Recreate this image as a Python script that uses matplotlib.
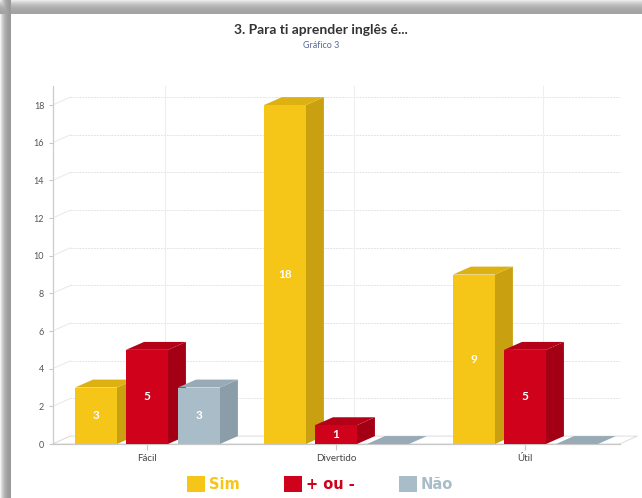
import numpy as np
import matplotlib.pyplot as plt
from matplotlib.patches import Polygon, Patch

plt.rcParams['font.family'] = ['Lato', 'DejaVu Sans']

categories = ["Fácil", "Divertido", "Útil"]
series_names = ["Sim", "+ ou -", "Não"]
sim = [3, 18, 9]
mais_ou_menos = [5, 1, 5]
nao = [3, 0, 0]
values = [sim, mais_ou_menos, nao]

front = ["#F5C518", "#D0021B", "#A9BDC8"]
top = ["#DDB112", "#B50118", "#97AAB5"]
side = ["#C8A010", "#A30016", "#8A9DA8"]

W, H = 642, 498
fig = plt.figure(figsize=(W / 100, H / 100), dpi=100)

# picture frame shadow (left and top)
bg = fig.add_axes([0, 0, 1, 1], zorder=-10)
xx = np.arange(W)
yy = np.arange(H)
lx = np.clip((11 - xx) / 11.0, 0, 1)
ty = np.clip((15 - yy) / 15.0, 0, 1)
left_band = np.where(xx < 11, 0.6 + 0.35 * lx ** 2.5, 1.0)
top_band = np.where(yy < 15, 0.64 + 0.33 * ty ** 2.5, 1.0)
shade = np.minimum(left_band[None, :], top_band[:, None])
img = np.dstack([shade, shade, shade])
bg.imshow(img, extent=[0, 1, 0, 1], aspect='auto')
bg.axis('off')

ax = fig.add_axes([52.5 / W, (H - 444) / H, 567 / W, 357.8 / H])
ax.set_xlim(-0.5, 2.5)
ax.set_ylim(0, 19)

w = 0.222
offs = [-0.27, 0.0, 0.275]
dx = 0.095
dy = 0.42

# back grid
x0 = -0.5
for yv in range(0, 19, 2):
    ax.plot([x0, x0 + dx], [yv, yv + dy], color="#e8e8e8", lw=0.7, zorder=0)
    ax.plot([x0 + dx, 2.5 + dx], [yv + dy, yv + dy], color="#e4e4e4", lw=0.7,
            ls=(0, (2, 1)), zorder=0)
for i in range(len(categories)):
    ax.plot([i + dx, i + dx], [dy, 19], color="#eeeeee", lw=0.8, zorder=0)

# floor
ax.add_patch(Polygon([[x0, 0], [2.5, 0], [2.5 + dx, dy], [x0 + dx, dy]],
                     closed=True, facecolor="white", edgecolor="#d8d8d8",
                     lw=0.6, zorder=1, clip_on=False))
ax.plot([x0, 2.5], [0, 0], color="#c8c8c8", lw=0.9, zorder=2, clip_on=False)

z = 3
for i in range(len(categories)):
    for s in range(len(series_names)):
        v = values[s][i]
        xl = i + offs[s] - w / 2
        xr = xl + w
        if v > 0:
            ax.add_patch(Polygon([[xr, 0], [xr + dx, dy], [xr + dx, v + dy], [xr, v]],
                                 closed=True, facecolor=side[s], edgecolor='none', zorder=z))
        ax.add_patch(Polygon([[xl, v], [xr, v], [xr + dx, v + dy], [xl + dx, v + dy]],
                             closed=True, facecolor=top[s], edgecolor='none', zorder=z))
        if v > 0:
            ax.add_patch(Polygon([[xl, 0], [xr, 0], [xr, v], [xl, v]],
                                 closed=True, facecolor=front[s], edgecolor='none', zorder=z))
            ax.text((xl + xr) / 2, v / 2, str(v), color="white", fontsize=8.5,
                    fontweight='bold', ha='center', va='center', zorder=z + 1)
        z += 1

for sp in ['top', 'right', 'bottom']:
    ax.spines[sp].set_visible(False)
ax.spines['left'].set_color("#cccccc")
ax.spines['left'].set_linewidth(0.9)
ax.set_yticks(range(0, 19, 2))
ax.set_xticks(range(len(categories)))
ax.set_xticklabels(categories)
ax.tick_params(axis='y', labelsize=6.5, colors="#c8c8c8", labelcolor="#555555",
               length=3, width=0.8, pad=3)
ax.tick_params(axis='x', labelsize=7, colors="#c8c8c8", labelcolor="#444444",
               length=4, width=0.8, pad=3)
ax.patch.set_alpha(0)

fig.text(0.5, (H - 30) / H, "3. Para ti aprender inglês é...", ha='center',
         va='center', fontsize=10, fontweight='bold', color="#333333")
fig.text(0.5, (H - 46) / H, "Gráfico 3", ha='center', va='center',
         fontsize=6.5, color="#5a6a9a")

handles = [Patch(facecolor=c, edgecolor='none') for c in front]
leg = fig.legend(handles, series_names, loc='center', bbox_to_anchor=(0.4985, (H - 484) / H),
                 ncol=3, frameon=False, handlelength=1.25, handleheight=1.25,
                 handletextpad=0.25, columnspacing=3.05,
                 prop={'family': 'DejaVu Sans', 'weight': 'bold', 'size': 10.5})
for t, c in zip(leg.get_texts(), front):
    t.set_color(c)

fig.savefig("out.png", dpi=100)
